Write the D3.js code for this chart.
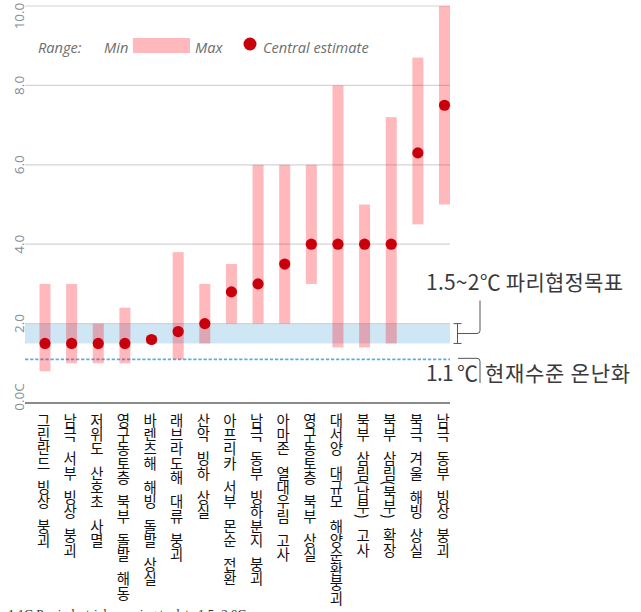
<!DOCTYPE html>
<html><head><meta charset="utf-8">
<script src="https://cdn.jsdelivr.net/npm/d3@7"></script>
<style>
html,body{margin:0;padding:0;background:#fff;overflow:hidden;}
svg{display:block;}
</style></head>
<body>
<svg id="chart" width="641" height="612"></svg>
<script>
// Tipping elements: warming thresholds (°C) — range and central estimate
const categories = [
  "그린란드 빙상 붕괴", "남극 서부 빙상 붕괴", "저위도 산호초 사멸",
  "영구동토층 북부 돌발 해동", "바렌츠해 해빙 돌발 상실", "래브라도해 대류 붕괴",
  "산악 빙하 상실", "아프리카 서부 몬순 전환", "남극 동부 빙하분지 붕괴",
  "아마존 열대우림 고사", "영구동토층 북부 상실", "대서양 대규모 해양순환붕괴",
  "북부 삼림(남부) 고사", "북부 삼림(북부) 확장", "북극 겨울 해빙 상실", "남극 동부 빙상 붕괴"
];
const minValues     = [0.8, 1.0, 1.0, 1.0, 1.5, 1.1, 1.5, 2.0, 2.0, 2.0, 3.0, 1.4, 1.4, 1.5, 4.5, 5.0];
const maxValues     = [3.0, 3.0, 2.0, 2.4, 1.7, 3.8, 3.0, 3.5, 6.0, 6.0, 6.0, 8.0, 5.0, 7.2, 8.7, 10.0];
const centralValues = [1.5, 1.5, 1.5, 1.5, 1.6, 1.8, 2.0, 2.8, 3.0, 3.5, 4.0, 4.0, 4.0, 4.0, 6.3, 7.5];
const yTicks      = [0, 2, 4, 6, 8, 10];
const yTickLabels = ["0.0C", "2.0", "4.0", "6.0", "8.0", "10.0"];
const parisBand = [1.5, 2.0];
const currentWarming = 1.1;
const parisLabel = "1.5~2℃ 파리협정목표";
const currentLabelA = "1.1 ℃";
const currentLabelB = "현재수준 온난화";
const legendLabels = ["Range:", "Min", "Max", "Central estimate"];
const footnote = "1.1C Pre-industrial warming to date        1.5~2.0C";

const svg = d3.select("#chart");
const gridLeft = 25, gridRight = 450;

const y = d3.scaleLinear().domain([0, 10]).range([403, 6]);
const x = d3.scalePoint().domain(categories).range([45, 444.5]);

const rows = categories.map((c, i) => ({
  name: c, min: minValues[i], max: maxValues[i], mid: centralValues[i]
}));

// Paris target band
svg.append("rect")
  .attr("x", gridLeft).attr("width", gridRight - gridLeft)
  .attr("y", y(parisBand[1])).attr("height", y(parisBand[0]) - y(parisBand[1]))
  .attr("fill", "#cfe6f5");

// Gridlines
svg.append("g").selectAll("line")
  .data(yTicks.filter(t => t > 0))
  .join("line")
  .attr("x1", gridLeft).attr("x2", gridRight)
  .attr("y1", d => y(d)).attr("y2", d => y(d))
  .attr("stroke", "#d4d4d4").attr("stroke-width", 1.2);

// Current warming line
svg.append("line")
  .attr("x1", gridLeft).attr("x2", gridRight)
  .attr("y1", y(currentWarming)).attr("y2", y(currentWarming))
  .attr("stroke", "#5aaee2").attr("stroke-width", 1.6)
  .attr("stroke-dasharray", "3.3,1.8");

// Baseline
svg.append("line")
  .attr("x1", gridLeft).attr("x2", gridRight)
  .attr("y1", y(0)).attr("y2", y(0))
  .attr("stroke", "#8a8a8a").attr("stroke-width", 2);

// Y tick labels (rotated)
svg.append("g").selectAll("text")
  .data(yTicks)
  .join("text")
  .attr("transform", (d) => {
    const cy = Math.min(Math.max(y(d), 16), 397);
    return `translate(24,${cy}) rotate(-90)`;
  })
  .attr("text-anchor", "middle")
  .attr("font-family", "'Open Sans', sans-serif")
  .attr("font-size", 13.5)
  .attr("fill", "#878d95")
  .text((d, i) => yTickLabels[i]);

// Range bars
const barW = 11;
svg.append("g").selectAll("rect")
  .data(rows)
  .join("rect")
  .attr("x", d => x(d.name) - barW / 2)
  .attr("width", barW)
  .attr("y", d => y(d.max))
  .attr("height", d => y(d.min) - y(d.max))
  .attr("fill", "rgb(255,0,12)")
  .attr("fill-opacity", 0.28);

// Central estimates
svg.append("g").selectAll("circle")
  .data(rows)
  .join("circle")
  .attr("cx", d => x(d.name))
  .attr("cy", d => y(d.mid))
  .attr("r", 5.6)
  .attr("fill", "#c9000b");

// Vertical category labels
svg.append("g").selectAll("text")
  .data(rows)
  .join("text")
  .attr("x", d => x(d.name) - 1.5)
  .attr("y", 413)
  .style("writing-mode", "vertical-rl")
  .attr("font-family", "'Noto Sans CJK KR', sans-serif")
  .attr("font-size", 14.4)
  .style("word-spacing", "6.5px")
  .attr("fill", "#111")
  .text(d => d.name);

// Legend
const legend = svg.append("g")
  .attr("font-family", "'Open Sans', sans-serif")
  .attr("font-style", "italic")
  .attr("font-size", 14.6)
  .attr("fill", "#6e6e6e");
legend.append("text").attr("x", 38).attr("y", 53).text(legendLabels[0]);
legend.append("text").attr("x", 104).attr("y", 53).text(legendLabels[1]);
legend.append("rect").attr("x", 133).attr("y", 38).attr("width", 57).attr("height", 15)
  .attr("fill", "rgb(255,0,12)").attr("fill-opacity", 0.28);
legend.append("text").attr("x", 195).attr("y", 53).text(legendLabels[2]);
legend.append("circle").attr("cx", 250).attr("cy", 44).attr("r", 6.5).attr("fill", "#c9000b");
legend.append("text").attr("x", 263).attr("y", 53).text(legendLabels[3]);

// Annotations
const ann = svg.append("g").attr("stroke", "#555").attr("stroke-width", 1).attr("fill", "none");
const ix = 457.5;
ann.append("line").attr("x1", ix).attr("x2", ix).attr("y1", y(parisBand[1])).attr("y2", y(parisBand[0]));
ann.append("line").attr("x1", ix - 4).attr("x2", ix + 4).attr("y1", y(parisBand[1])).attr("y2", y(parisBand[1]));
ann.append("line").attr("x1", ix - 4).attr("x2", ix + 4).attr("y1", y(parisBand[0])).attr("y2", y(parisBand[0]));
const midY = (y(parisBand[0]) + y(parisBand[1])) / 2;
ann.append("path").attr("d", `M${ix},${midY} H477 Q480,${midY} 480,${midY - 3} V300.5`);
const cy = y(currentWarming) - 1;
ann.append("path").attr("d", `M458,${cy} H477 Q480,${cy} 480,${cy + 3} V383`);

const annText = svg.append("g")
  .attr("font-family", "'Noto Sans CJK KR', sans-serif")
  .attr("font-size", 21)
  .attr("fill", "#3a3a3a");
annText.append("text").attr("x", 426).attr("y", 290)
  .attr("textLength", 197).attr("lengthAdjust", "spacing").text(parisLabel);
annText.append("text").attr("x", 426).attr("y", 381)
  .attr("textLength", 52).attr("lengthAdjust", "spacing").text(currentLabelA);
annText.append("text").attr("x", 485).attr("y", 381)
  .attr("textLength", 145).attr("lengthAdjust", "spacing").text(currentLabelB);

// Footnote (runs off the bottom edge)
svg.append("text")
  .attr("x", 8).attr("y", 618)
  .attr("font-family", "'Liberation Serif', serif")
  .attr("font-size", 13)
  .attr("fill", "#333")
  .text(footnote);
</script>
</body></html>
